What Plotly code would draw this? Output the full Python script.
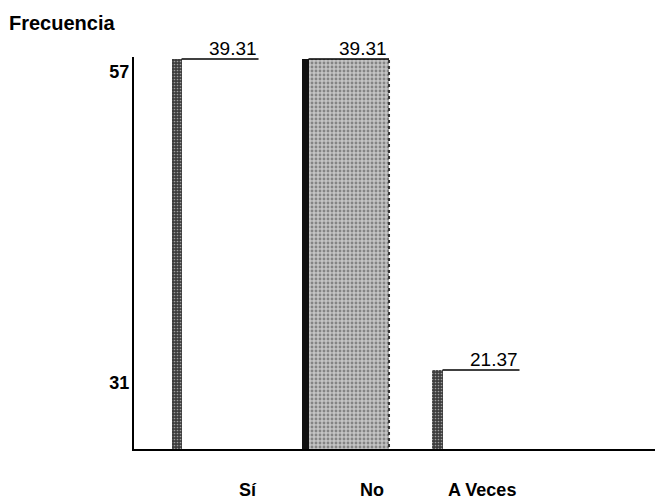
import plotly.graph_objects as go

# ---- data ----
categories = ["Sí", "No", "A Veces"]
frequencies = [57, 57, 31]
percentages = ["39.31", "39.31", "21.37"]
y_ticks = [31, 57]
y_title = "Frecuencia"

# ---- styling ----
x_idx = list(range(len(categories)))
bar_w = 0.667
half = bar_w / 2
strip_w = [0.077, 0.05, 0.077]
face_colors = ["white", "#c4c4c4", "white"]
face_patterns = ["", ".", ""]
strip_colors = ["#3c3c3c", "#111111", "#3c3c3c"]
label_xshift = [33, 26, 6]
font_fam = "Liberation Sans, Arial, sans-serif"

fig = go.Figure()

# front faces
fig.add_trace(go.Bar(
    x=x_idx, y=frequencies, width=bar_w, offset=-half,
    marker=dict(color=face_colors, line=dict(width=0),
                pattern=dict(shape=face_patterns, fgcolor="#2a2a2a",
                             size=4, solidity=0.4, fillmode="overlay")),
    hoverinfo="skip", showlegend=False,
))
# dark left strips
fig.add_trace(go.Bar(
    x=x_idx, y=frequencies, width=strip_w, offset=-half,
    marker=dict(color=strip_colors, line=dict(width=0),
                pattern=dict(shape=[".", "", "."], fgcolor="#bdbdbd",
                             size=3, solidity=0.25, fillmode="overlay")),
    hoverinfo="skip", showlegend=False,
))

# top edges of each bar
tx, ty = [], []
for i, v in enumerate(frequencies):
    tx += [x_idx[i] - half + strip_w[i], x_idx[i] + half, None]
    ty += [v, v, None]
fig.add_trace(go.Scatter(x=tx, y=ty, mode="lines",
                         line=dict(color="black", width=1.5),
                         hoverinfo="skip", showlegend=False))

# dotted right edge of the shaded (No) bar
fig.add_trace(go.Scatter(x=[x_idx[1] + half, x_idx[1] + half],
                         y=[0, frequencies[1]], mode="lines",
                         line=dict(color="#333", width=2, dash="dot"),
                         hoverinfo="skip", showlegend=False))

# value labels (percentages)
for i, v in enumerate(frequencies):
    fig.add_annotation(x=x_idx[i] + half, y=v, text=percentages[i],
                       xanchor="right", yanchor="bottom", showarrow=False,
                       yshift=-2,
                       font=dict(family=font_fam, size=19, color="black"))

# category labels
for i, c in enumerate(categories):
    fig.add_annotation(x=x_idx[i], y=0, yref="paper", text="<b>%s</b>" % c,
                       xanchor="center", yanchor="middle", showarrow=False,
                       xshift=label_xshift[i], yshift=-41,
                       font=dict(family=font_fam, size=18, color="black"))

# axis title
fig.add_annotation(x=0, y=1, xref="paper", yref="paper", text="<b>%s</b>" % y_title,
                   xanchor="left", yanchor="middle", showarrow=False,
                   xshift=-127, yshift=34,
                   font=dict(family=font_fam, size=20, color="black"))

fig.update_layout(
    width=655, height=499,
    margin=dict(l=134, r=0, t=57, b=50),
    paper_bgcolor="white", plot_bgcolor="white",
    barmode="overlay", bargap=0,
    xaxis=dict(range=[-0.621, 3.372], showgrid=False, zeroline=False,
               showticklabels=False, ticks="", showline=True,
               linecolor="black", linewidth=2, fixedrange=True),
    yaxis=dict(range=[24.4, 57.17], showgrid=False, zeroline=False,
               tickvals=y_ticks, ticktext=["<b>%d</b>" % t for t in y_ticks],
               ticks="", ticklen=0, ticklabelstandoff=-1, ticklabelshift=13,
               tickfont=dict(family=font_fam, size=18, color="black"),
               showline=True, linecolor="black", linewidth=2,
               fixedrange=True),
)

fig.write_html("out.html")
